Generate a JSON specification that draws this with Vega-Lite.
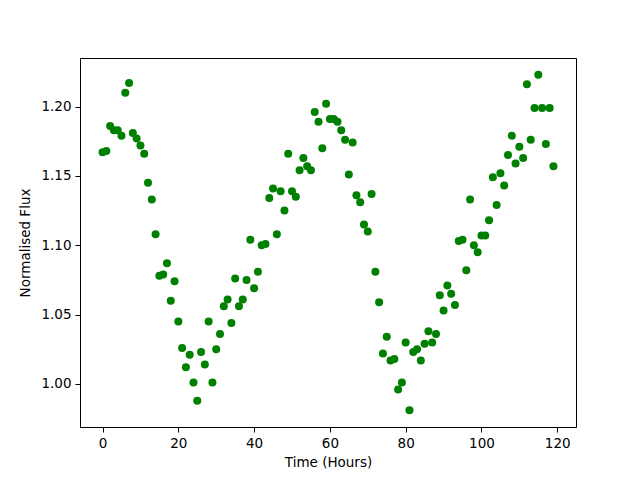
{
  "$schema": "https://vega.github.io/schema/vega-lite/v6.json",
  "width": 496,
  "height": 369,
  "autosize": {"type": "none"},
  "padding": {"left": 80, "top": 58, "right": 64, "bottom": 53},
  "background": "white",
  "config": {
    "view": {"stroke": "black", "strokeWidth": 1},
    "axis": {
      "grid": false,
      "domain": false,
      "tickColor": "black",
      "tickSize": 5,
      "tickWidth": 1,
      "labelFont": "DejaVu Sans",
      "labelFontSize": 13.5,
      "labelColor": "black",
      "labelPadding": 4,
      "titleFont": "DejaVu Sans",
      "titleFontSize": 13.5,
      "titleFontWeight": "normal",
      "titleColor": "black"
    }
  },
  "data": {
    "values": [
      {"t":0,"f":1.167},{"t":1,"f":1.168},{"t":2,"f":1.186},{"t":3,"f":1.183},{"t":4,"f":1.183},
      {"t":5,"f":1.179},{"t":6,"f":1.210},{"t":7,"f":1.217},{"t":8,"f":1.181},{"t":9,"f":1.177},
      {"t":10,"f":1.172},{"t":11,"f":1.166},{"t":12,"f":1.145},{"t":13,"f":1.133},{"t":14,"f":1.108},
      {"t":15,"f":1.078},{"t":16,"f":1.079},{"t":17,"f":1.087},{"t":18,"f":1.060},{"t":19,"f":1.074},
      {"t":20,"f":1.045},{"t":21,"f":1.026},{"t":22,"f":1.012},{"t":23,"f":1.021},{"t":24,"f":1.001},
      {"t":25,"f":0.988},{"t":26,"f":1.023},{"t":27,"f":1.014},{"t":28,"f":1.045},{"t":29,"f":1.001},
      {"t":30,"f":1.025},{"t":31,"f":1.036},{"t":32,"f":1.056},{"t":33,"f":1.061},{"t":34,"f":1.044},
      {"t":35,"f":1.076},{"t":36,"f":1.056},{"t":37,"f":1.061},{"t":38,"f":1.075},{"t":39,"f":1.104},
      {"t":40,"f":1.069},{"t":41,"f":1.081},{"t":42,"f":1.100},{"t":43,"f":1.101},{"t":44,"f":1.134},
      {"t":45,"f":1.141},{"t":46,"f":1.108},{"t":47,"f":1.139},{"t":48,"f":1.125},{"t":49,"f":1.166},
      {"t":50,"f":1.139},{"t":51,"f":1.135},{"t":52,"f":1.154},{"t":53,"f":1.163},{"t":54,"f":1.157},
      {"t":55,"f":1.154},{"t":56,"f":1.196},{"t":57,"f":1.189},{"t":58,"f":1.170},{"t":59,"f":1.202},
      {"t":60,"f":1.191},{"t":61,"f":1.191},{"t":62,"f":1.189},{"t":63,"f":1.183},{"t":64,"f":1.176},
      {"t":65,"f":1.151},{"t":66,"f":1.174},{"t":67,"f":1.136},{"t":68,"f":1.131},{"t":69,"f":1.115},
      {"t":70,"f":1.110},{"t":71,"f":1.137},{"t":72,"f":1.081},{"t":73,"f":1.059},{"t":74,"f":1.022},
      {"t":75,"f":1.034},{"t":76,"f":1.017},{"t":77,"f":1.018},{"t":78,"f":0.996},{"t":79,"f":1.001},
      {"t":80,"f":1.030},{"t":81,"f":0.981},{"t":82,"f":1.023},{"t":83,"f":1.025},{"t":84,"f":1.017},
      {"t":85,"f":1.029},{"t":86,"f":1.038},{"t":87,"f":1.030},{"t":88,"f":1.036},{"t":89,"f":1.064},
      {"t":90,"f":1.053},{"t":91,"f":1.071},{"t":92,"f":1.065},{"t":93,"f":1.057},{"t":94,"f":1.103},
      {"t":95,"f":1.104},{"t":96,"f":1.082},{"t":97,"f":1.133},{"t":98,"f":1.100},{"t":99,"f":1.095},
      {"t":100,"f":1.107},{"t":101,"f":1.107},{"t":102,"f":1.118},{"t":103,"f":1.149},{"t":104,"f":1.129},
      {"t":105,"f":1.152},{"t":106,"f":1.143},{"t":107,"f":1.165},{"t":108,"f":1.179},{"t":109,"f":1.159},
      {"t":110,"f":1.171},{"t":111,"f":1.163},{"t":112,"f":1.216},{"t":113,"f":1.176},{"t":114,"f":1.199},
      {"t":115,"f":1.223},{"t":116,"f":1.199},{"t":117,"f":1.173},{"t":118,"f":1.199},{"t":119,"f":1.157}
    ]
  },
  "mark": {"type": "point", "shape": "circle", "filled": true, "opacity": 1, "size": 64, "color": "#008000"},
  "encoding": {
    "x": {
      "field": "t", "type": "quantitative",
      "scale": {"domain": [-5.95, 124.95], "nice": false, "zero": false},
      "axis": {"values": [0, 20, 40, 60, 80, 100, 120], "title": "Time (Hours)", "titlePadding": 6}
    },
    "y": {
      "field": "f", "type": "quantitative",
      "scale": {"domain": [0.969, 1.235], "nice": false, "zero": false},
      "axis": {"values": [1.0, 1.05, 1.1, 1.15, 1.2], "format": ".2f", "title": "Normalised Flux", "titlePadding": 8}
    }
  }
}
